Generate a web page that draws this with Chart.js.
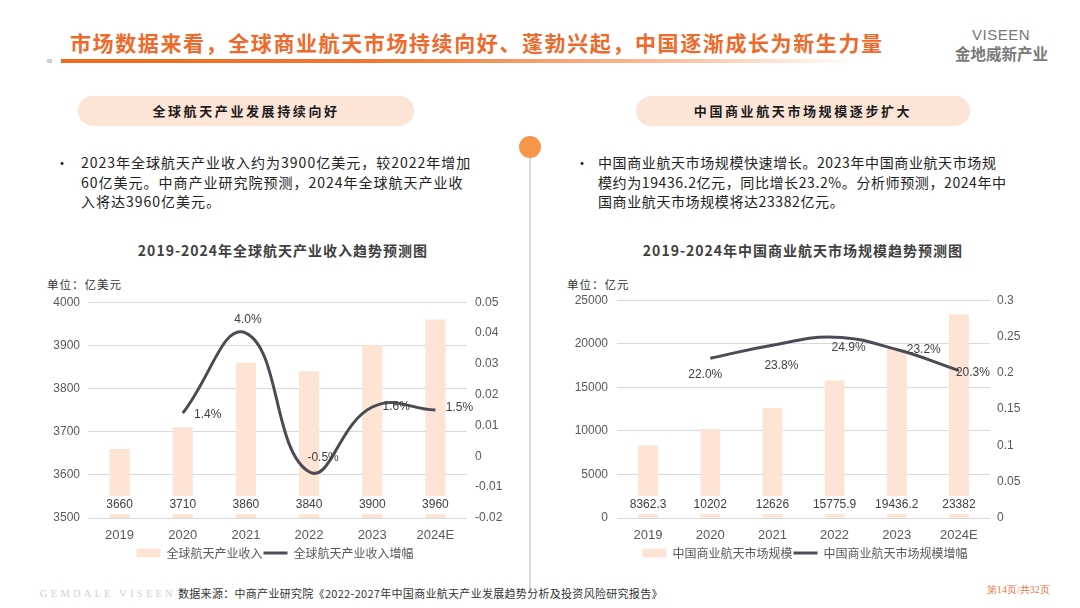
<!DOCTYPE html>
<html>
<head>
<meta charset="utf-8">
<script src="https://cdn.jsdelivr.net/npm/chart.js@4.4.1/dist/chart.umd.min.js"></script>
<style>
  body { margin: 0; width: 1080px; height: 608px; position: relative; background: #fff; overflow: hidden;
         font-family: "Noto Sans CJK SC", sans-serif; }
  .abs { position: absolute; white-space: nowrap; }
  .pill { position: absolute; height: 30px; border-radius: 15px; background: #FCE4D6; text-align: center;
          line-height: 30px; font-size: 13px; font-weight: bold; letter-spacing: 2.6px; color: #1a1a1a; }
  .bullet { position: absolute; font-size: 14px; line-height: 19.5px; letter-spacing: 1px; color: #222; white-space: nowrap; }
  .ctitle { position: absolute; font-size: 14px; font-weight: bold; letter-spacing: 1px; color: #404040; text-align: center; line-height: 16px; }
  .unit { position: absolute; font-size: 11.5px; letter-spacing: 1px; color: #333; line-height: 14px; }
  .chartbox { position: absolute; }
</style>
</head>
<body>
<!-- header -->
<div class="abs" style="left:70px;top:31px;font-size:21px;line-height:22px;font-weight:bold;letter-spacing:1.6px;color:#EE6A2C;">市场数据来看，全球商业航天市场持续向好、蓬勃兴起，中国逐渐成长为新生力量</div>
<div class="abs" style="left:47px;top:59px;width:5px;height:4px;background:#cfcfcf;"></div>
<div class="abs" style="left:61px;top:59px;width:800px;height:4px;background:linear-gradient(90deg,#EE6A1E 0%,#F07A30 40%,rgba(248,160,110,0.7) 75%,rgba(255,255,255,0) 100%);"></div>
<div class="abs" style="left:972px;top:27px;font-family:'Liberation Sans',sans-serif;font-size:15px;line-height:16px;color:#777;letter-spacing:0.5px;">VISEEN</div>
<div class="abs" style="left:955px;top:45px;font-size:15.5px;line-height:16px;font-weight:bold;color:#7a7a7a;">金地威新产业</div>

<div class="pill" style="left:78px;top:96px;width:336px;">全球航天产业发展持续向好</div>
<div class="pill" style="left:636px;top:96px;width:334px;">中国商业航天市场规模逐步扩大</div>

<!-- divider -->
<div class="abs" style="left:529px;top:148px;width:2px;height:445px;background:#d9d9d9;"></div>
<div class="abs" style="left:519px;top:136px;width:22px;height:22px;border-radius:11px;background:#F5964A;"></div>

<!-- bullets -->
<div class="abs" style="left:55px;top:152px;font-size:14px;line-height:20px;color:#222;">•</div>
<div class="bullet" style="left:81px;top:153px;">2023年全球航天产业收入约为3900亿美元，较2022年增加<br>60亿美元。中商产业研究院预测，2024年全球航天产业收<br>入将达3960亿美元。</div>
<div class="abs" style="left:575px;top:152px;font-size:14px;line-height:20px;color:#222;">•</div>
<div class="bullet" style="left:598px;top:153px;letter-spacing:0.6px;">中国商业航天市场规模快速增长。2023年中国商业航天市场规<br>模约为19436.2亿元，同比增长23.2%。分析师预测，2024年中<br>国商业航天市场规模将达23382亿元。</div>

<!-- chart titles -->
<div class="ctitle" style="left:83px;top:242px;width:400px;">2019-2024年全球航天产业收入趋势预测图</div>
<div class="ctitle" style="left:603px;top:242px;width:400px;">2019-2024年中国商业航天市场规模趋势预测图</div>
<div class="unit" style="left:47px;top:277px;">单位：亿美元</div>
<div class="unit" style="left:567px;top:277px;">单位：亿元</div>

<div class="chartbox" style="left:40px;top:287px;width:470px;height:282px;"><canvas id="globalChart"></canvas></div>
<div class="chartbox" style="left:560px;top:284px;width:490px;height:285px;"><canvas id="chinaChart"></canvas></div>

<!-- footer -->
<div class="abs" style="left:40px;top:588px;font-family:'Liberation Serif',serif;font-size:10.5px;letter-spacing:3.2px;color:#cfcfcf;line-height:12px;">GEMDALE VISEEN</div>
<div class="abs" style="left:178px;top:586px;font-size:11px;letter-spacing:0.3px;color:#333;line-height:14px;">数据来源：中商产业研究院《2022-2027年中国商业航天产业发展趋势分析及投资风险研究报告》</div>
<div class="abs" style="left:987px;top:584px;font-family:'Liberation Serif',serif;font-size:10px;color:#E8743B;line-height:12px;">第14页/共32页</div>

<script>
// categories
const years = ['2019', '2020', '2021', '2022', '2023', '2024E'];

// global space industry revenue (100M USD) and growth rate
const globalRevenue = [3660, 3710, 3860, 3840, 3900, 3960];
const globalGrowth = [null, 0.014, 0.04, -0.005, 0.016, 0.015];

// China commercial space market size (100M CNY) and growth rate
const chinaMarket = [8362.3, 10202, 12626, 15775.9, 19436.2, 23382];
const chinaGrowth = [null, 0.22, 0.238, 0.249, 0.232, 0.203];

// legend names
const globalNames = ['全球航天产业收入', '全球航天产业收入增幅'];
const chinaNames = ['中国商业航天市场规模', '中国商业航天市场规模增幅'];

// where each growth label sits relative to its point (px)
const globalLabelOffsets = [null, [25, 2], [2, -13], [14, -14], [24, 0], [24, -2]];
const chinaLabelOffsets = [null, [-5, 16], [9, 20], [14, 10], [27, 0], [14, 2]];

const barColor = '#FDE4D5';
const lineColor = '#4B4B55';
const tickColor = '#595959';
const tickFont = { family: '"Liberation Sans", "Noto Sans CJK SC"', size: 12 };
const xTickFont = { family: '"Liberation Sans", "Noto Sans CJK SC"', size: 13 };

const fmtNum = v => String(Math.round(v * 1000) / 1000);

// value labels: bar values with a white box at the bar foot, growth % next to the points
const valueLabels = {
  id: 'valueLabels',
  afterDatasetsDraw(chart, args, opts) {
    const { ctx, chartArea } = chart;
    ctx.save();
    ctx.font = '12px "Liberation Sans", "Noto Sans CJK SC"';
    ctx.textAlign = 'center';
    ctx.textBaseline = 'middle';

    const yb = chartArea.bottom - 13;
    chart.getDatasetMeta(0).data.forEach((bar, i) => {
      const txt = String(chart.data.datasets[0].data[i]);
      const w = ctx.measureText(txt).width + 6;
      ctx.fillStyle = '#fff';
      ctx.fillRect(bar.x - w / 2, yb - 9, w, 18);
      ctx.fillStyle = '#404040';
      ctx.fillText(txt, bar.x, yb);
    });

    chart.getDatasetMeta(1).data.forEach((pt, i) => {
      const v = chart.data.datasets[1].data[i];
      const off = opts.offsets[i];
      if (v == null || !off) return;
      ctx.fillStyle = '#404040';
      ctx.fillText((v * 100).toFixed(1) + '%', pt.x + off[0], pt.y + off[1]);
    });
    ctx.restore();
  }
};

function makeChart(id, names, bars, growth, offsets, yOpts, y1Opts, leftW, rightW) {
  return new Chart(document.getElementById(id), {
    type: 'bar',
    data: {
      labels: years,
      datasets: [
        {
          type: 'bar',
          label: names[0],
          data: bars,
          backgroundColor: barColor,
          borderWidth: 0,
          barPercentage: 0.32,
          categoryPercentage: 1,
          yAxisID: 'y',
          order: 2,
          pointStyle: 'rect',
        },
        {
          type: 'line',
          label: names[1],
          data: growth,
          borderColor: lineColor,
          backgroundColor: lineColor,
          borderWidth: 3,
          pointRadius: 0,
          tension: 0.45,
          yAxisID: 'y1',
          order: 1,
          pointStyle: 'line',
        }
      ]
    },
    options: {
      responsive: true,
      maintainAspectRatio: false,
      animation: false,
      layout: { padding: { top: 12, left: 0, right: 0, bottom: 0 } },
      plugins: {
        tooltip: { enabled: false },
        valueLabels: { offsets },
        legend: {
          position: 'bottom',
          labels: {
            usePointStyle: true,
            pointStyleWidth: 24,
            boxHeight: 9,
            padding: 1,
            color: tickColor,
            font: { family: '"Noto Sans CJK SC"', size: 12 },
            sort: (a, b) => a.datasetIndex - b.datasetIndex,
          }
        }
      },
      scales: {
        x: {
          grid: { display: false, drawTicks: false },
          border: { display: false },
          ticks: { color: tickColor, font: xTickFont, padding: 10 },
          afterFit: s => { s.height = 28; },
        },
        y: Object.assign({
          position: 'left',
          grid: { color: '#D9D9D9', drawTicks: false, lineWidth: 1 },
          border: { display: false },
          afterFit: s => { s.width = leftW; },
        }, yOpts),
        y1: Object.assign({
          position: 'right',
          grid: { display: false, drawTicks: false },
          border: { display: false },
          afterFit: s => { s.width = rightW; },
        }, y1Opts),
      }
    },
    plugins: [valueLabels]
  });
}

makeChart('globalChart', globalNames, globalRevenue, globalGrowth, globalLabelOffsets,
  { min: 3500, max: 4000, ticks: { stepSize: 100, color: tickColor, font: tickFont, padding: 8, callback: fmtNum } },
  { min: -0.02, max: 0.05, ticks: { stepSize: 0.01, color: tickColor, font: tickFont, padding: 8, callback: fmtNum } },
  48, 43);

makeChart('chinaChart', chinaNames, chinaMarket, chinaGrowth, chinaLabelOffsets,
  { min: 0, max: 25000, ticks: { stepSize: 5000, color: tickColor, font: tickFont, padding: 9, callback: fmtNum } },
  { min: 0, max: 0.3, ticks: { stepSize: 0.05, color: tickColor, font: tickFont, padding: 7, callback: fmtNum } },
  57, 60);
</script>
</body>
</html>
